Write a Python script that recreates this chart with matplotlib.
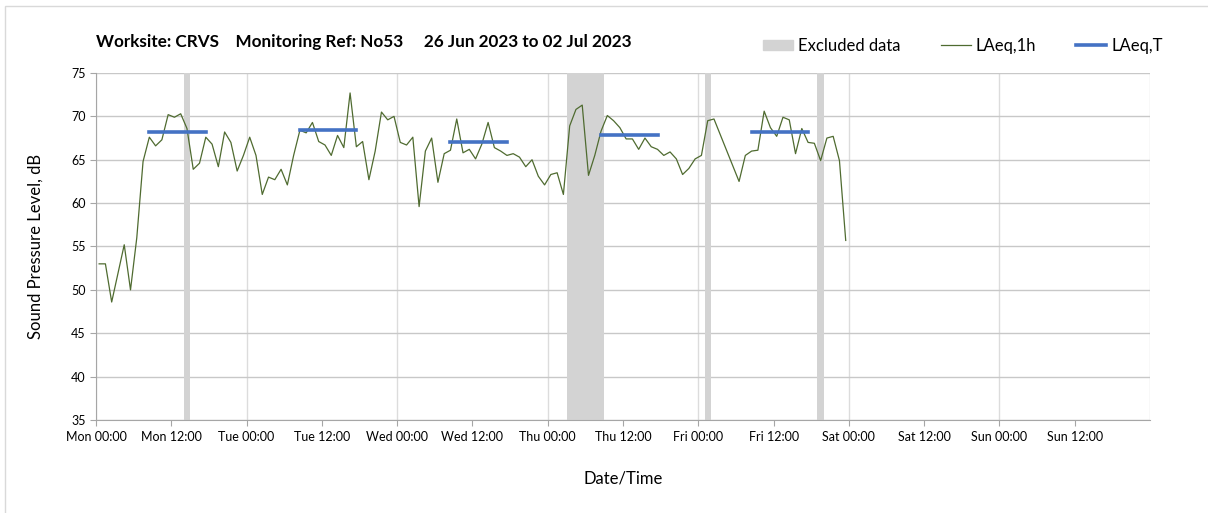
import matplotlib.pyplot as plt
import matplotlib.dates as mdates
import matplotlib.patches as mpatches
from matplotlib.lines import Line2D
import pandas as pd

plt.rcParams['font.family'] = ['Lato', 'DejaVu Sans']

# hourly LAeq,1h values, Mon 26 Jun 00:30 onwards
laeq_1h = [
    53.0, 53.0, 48.6, 51.9, 55.2, 50.0, 56.0, 64.8, 67.6, 66.6,
    67.3, 70.2, 69.9, 70.3, 68.6, 63.9, 64.6, 67.6, 66.8, 64.2,
    68.2, 67.0, 63.7, 65.5, 67.6, 65.5, 61.0, 63.0, 62.7, 63.9,
    62.1, 65.5, 68.4, 68.1, 69.3, 67.1, 66.7, 65.5, 67.8, 66.4,
    72.7, 66.5, 67.1, 62.7, 66.0, 70.5, 69.6, 70.0, 67.0, 66.7,
    67.6, 59.6, 66.0, 67.5, 62.4, 65.7, 66.1, 69.7, 65.8, 66.2,
    65.1, 66.8, 69.3, 66.4, 66.0, 65.5, 65.7, 65.3, 64.2, 65.0,
    63.1, 62.1, 63.3, 63.5, 61.0, 68.9, 70.8, 71.3, 63.2, 65.5,
    68.3, 70.1, 69.5, 68.7, 67.4, 67.4, 66.2, 67.5, 66.5, 66.2,
    65.5, 65.9, 65.1, 63.3, 64.0, 65.1, 65.5, 69.5, 69.7, 67.9,
    66.1, 64.3, 62.5, 65.5, 66.0, 66.1, 70.6, 68.7, 67.7, 69.9,
    69.6, 65.7, 68.6, 67.0, 66.9, 64.9, 67.5, 67.7, 64.9, 55.7,
]
hours = pd.date_range('2023-06-26 00:30', periods=len(laeq_1h), freq='h')

# daytime LAeq,T periods
period_start = ['2023-06-26 08:30', '2023-06-27 08:30', '2023-06-28 08:30',
                '2023-06-29 08:30', '2023-06-30 08:30']
period_end = ['2023-06-26 17:30', '2023-06-27 17:30', '2023-06-28 17:30',
              '2023-06-29 17:30', '2023-06-30 17:30']
laeq_t = [68.15, 68.4, 67.0, 67.9, 68.25]

# excluded periods
excl_start = ['2023-06-26 14:00', '2023-06-29 03:00', '2023-06-30 01:00', '2023-06-30 19:00']
excl_end = ['2023-06-26 15:00', '2023-06-29 09:00', '2023-06-30 02:00', '2023-06-30 20:00']

green = '#4f6b30'
blue = '#4472c4'
grey_band = '#d3d3d3'

fig = plt.figure(figsize=(12.08, 5.13), dpi=100)
ax = fig.add_axes([96 / 1208, 1 - 420 / 513, (1150 - 96) / 1208, (420 - 73) / 513])

for s, e in zip(excl_start, excl_end):
    ax.axvspan(pd.Timestamp(s), pd.Timestamp(e), color=grey_band, lw=0, zorder=1)

ax.plot(hours, laeq_1h, color=green, lw=0.9, zorder=3)

for s, e, v in zip(period_start, period_end, laeq_t):
    ax.plot([pd.Timestamp(s), pd.Timestamp(e)], [v, v], color=blue, lw=2.6, zorder=4)

ax.set_xlim(pd.Timestamp('2023-06-26'), pd.Timestamp('2023-07-03'))
ax.set_ylim(35, 75)
ax.set_yticks(range(35, 76, 5))

# 12-hourly labels, last one (next Mon 00:00) left off
ax.set_xticks(pd.date_range('2023-06-26', periods=14, freq='12h'))
ax.xaxis.set_major_formatter(mdates.DateFormatter('%a %H:%M'))
ax.xaxis.set_minor_locator(mdates.DayLocator())
ax.xaxis.remove_overlapping_locs = False

ax.grid(axis='y', color='#c8c8c8', lw=1.0, zorder=0)
ax.grid(axis='x', which='minor', color='#dcdcdc', lw=1.0, zorder=0)
ax.set_axisbelow(True)

for sp in ['top', 'right']:
    ax.spines[sp].set_visible(False)
for sp in ['left', 'bottom']:
    ax.spines[sp].set_color('#a6a6a6')

ax.tick_params(axis='x', which='major', length=4, color='#a6a6a6', labelsize=9, pad=4)
ax.tick_params(axis='x', which='minor', length=0)
ax.tick_params(axis='y', length=4, color='#a6a6a6', labelsize=9)

ax.set_ylabel('Sound Pressure Level, dB', fontsize=12, labelpad=20)
ax.set_xlabel('Date/Time', fontsize=12, labelpad=20)

fig.text(96 / 1208, 1 - 42 / 513,
         'Worksite: CRVS    Monitoring Ref: No53     26 Jun 2023 to 02 Jul 2023',
         fontsize=12.3, fontweight='bold', va='center')

handles = [
    mpatches.Patch(color=grey_band, label='Excluded data'),
    Line2D([], [], color=green, lw=0.9, label='LAeq,1h'),
    Line2D([], [], color=blue, lw=2.6, label='LAeq,T'),
]
fig.legend(handles=handles, loc='center right', bbox_to_anchor=(0.975, 1 - 46 / 513),
           ncol=3, frameon=False, fontsize=12, handlelength=1.8, handleheight=0.6,
           columnspacing=2.4, handletextpad=0.3)

# outer chart frame
fig.patches.append(mpatches.Rectangle((5 / 1208, -0.1), 1.2, 1.1 - 6 / 513,
                                      transform=fig.transFigure, fill=False,
                                      edgecolor='#d9d9d9', lw=1))

fig.savefig('out.png', dpi=100)
